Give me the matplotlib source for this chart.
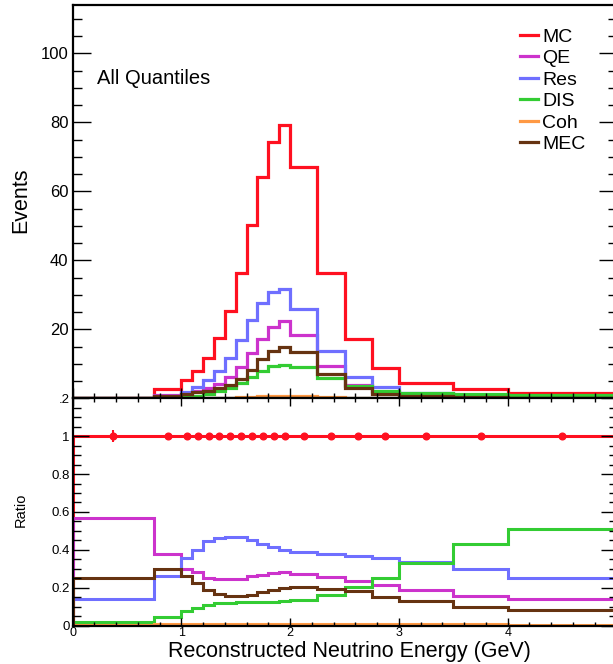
import numpy as np
import matplotlib
matplotlib.use("Agg")
import matplotlib.pyplot as plt
from matplotlib.ticker import MultipleLocator

plt.rcParams['font.family'] = ['Liberation Sans', 'DejaVu Sans']

# bin edges (GeV)
edges = [0, 0.75, 1.0, 1.1, 1.2, 1.3, 1.4, 1.5, 1.6, 1.7, 1.8, 1.9, 2.0,
         2.25, 2.5, 2.75, 3.0, 3.5, 4.0, 5.0]

# top panel: events per bin
mc  = [0.15, 2.6, 5.3, 8.0, 11.6, 17.4, 25.4, 36.2, 50.2, 64.1, 74.4, 79.2,
       67.0, 36.2, 17.1, 8.9, 4.3, 2.6, 1.6]
qe  = [0.09, 0.99, 1.57, 2.26, 2.9, 4.23, 6.22, 8.94, 13.0, 17.2, 20.7, 22.4,
       18.3, 9.3, 4.0, 1.92, 0.8, 0.4, 0.22]
res = [0.02, 0.67, 1.89, 3.19, 5.16, 8.02, 11.8, 17.0, 22.7, 27.6, 30.8, 31.6,
       25.8, 13.6, 6.3, 3.2, 1.44, 0.78, 0.4]
dis = [0.003, 0.12, 0.4, 0.74, 1.26, 2.09, 3.05, 4.42, 6.12, 7.95, 9.3, 9.7,
       9.05, 5.86, 3.45, 2.24, 1.42, 1.11, 0.82]
coh = [0.001, 0.02, 0.04, 0.06, 0.09, 0.16, 0.23, 0.36, 0.5, 0.64, 0.74, 0.79,
       0.6, 0.29, 0.12, 0.06, 0.03, 0.02, 0.01]
mec = [0.04, 0.77, 1.37, 1.78, 2.18, 2.91, 3.94, 5.61, 8.18, 11.3, 13.6, 15.0,
       13.5, 7.1, 3.08, 1.36, 0.57, 0.25, 0.13]

# bottom panel: fraction of MC per bin
r_mc  = [1.0] * 19
r_err = [0.03, 0.006, 0.005, 0.004, 0.004, 0.003, 0.003, 0.003, 0.003, 0.003,
         0.003, 0.003, 0.003, 0.003, 0.004, 0.005, 0.006, 0.008, 0.01]
r_qe  = [0.569, 0.379, 0.296, 0.282, 0.250, 0.243, 0.245, 0.247, 0.259, 0.269,
         0.276, 0.282, 0.273, 0.255, 0.234, 0.216, 0.185, 0.155, 0.139]
r_res = [0.139, 0.259, 0.357, 0.399, 0.445, 0.461, 0.466, 0.470, 0.452, 0.431,
         0.414, 0.399, 0.386, 0.378, 0.366, 0.357, 0.335, 0.300, 0.252]
r_dis = [0.019, 0.047, 0.076, 0.093, 0.109, 0.120, 0.120, 0.122, 0.122, 0.124,
         0.125, 0.128, 0.135, 0.162, 0.202, 0.252, 0.331, 0.428, 0.510]
r_coh = [0.005, 0.006, 0.007, 0.008, 0.008, 0.009, 0.009, 0.010, 0.010, 0.010,
         0.010, 0.010, 0.009, 0.008, 0.007, 0.007, 0.006, 0.006, 0.005]
r_mec = [0.252, 0.296, 0.259, 0.223, 0.188, 0.167, 0.155, 0.155, 0.163, 0.176,
         0.188, 0.199, 0.202, 0.194, 0.180, 0.153, 0.132, 0.097, 0.080]

labels = ["MC", "QE", "Res", "DIS", "Coh", "MEC"]
colors = ["#ff1020", "#cc33cc", "#6f6fff", "#33cc33", "#ff9944", "#663311"]

W, H = 613, 664
fig = plt.figure(figsize=(W / 100, H / 100), dpi=100)

left = 72.5 / W
width = (616.5 - 72.5) / W
ax1 = fig.add_axes([left, 1 - 398.3 / H, width, (398.3 - 5) / H])
ax2 = fig.add_axes([left, 1 - 625.5 / H, width, (625.5 - 398.3) / H])

# top panel
for vals, lab, col in zip([mc, qe, res, dis, coh, mec], labels, colors):
    ax1.stairs(vals, edges, baseline=0, color=col, lw=2.3, label=lab)

ax1.set_xlim(0, 5)
ax1.set_ylim(0, 114)
ax1.set_yticks([20, 40, 60, 80, 100])
ax1.yaxis.set_minor_locator(MultipleLocator(5))
ax1.xaxis.set_major_locator(MultipleLocator(1))
ax1.xaxis.set_minor_locator(MultipleLocator(0.2))
ax1.tick_params(axis='y', which='major', direction='in', length=13, width=1,
                left=True, right=True, labelsize=12, pad=3)
ax1.tick_params(axis='y', which='minor', direction='in', length=6.5, width=1,
                left=True, right=True)
ax1.tick_params(axis='x', which='major', direction='in', length=7, width=1,
                labelbottom=False)
ax1.tick_params(axis='x', which='minor', direction='in', length=3.5, width=1)
for s in ax1.spines.values():
    s.set_linewidth(1.6)

ax1.legend(loc='upper left', bbox_to_anchor=(520 / W, 1 - 28 / H),
           bbox_transform=fig.transFigure, frameon=False, fontsize=14,
           handlelength=0.9, handletextpad=0.25, labelspacing=0.2,
           borderpad=0, borderaxespad=0)

fig.text(97 / W, 1 - 78 / H, "All Quantiles", fontsize=14.5, va='center', ha='left')
fig.text(21 / W, 1 - 200 / H, "Events", fontsize=15.5, rotation=90,
         va='center', ha='center')

# bottom panel
centers = 0.5 * (np.array(edges[:-1]) + np.array(edges[1:]))
ax2.stairs(r_mc, edges, baseline=0, color=colors[0], lw=2.2)
for vals, col in zip([r_qe, r_res, r_dis, r_coh, r_mec], colors[1:]):
    ax2.stairs(vals, edges, baseline=0, color=col, lw=2.2)
ax2.errorbar(centers, r_mc, yerr=r_err, fmt='o', color=colors[0], ms=4.8,
             elinewidth=1.5, capsize=0, zorder=5)

ax2.set_xlim(0, 5)
ax2.set_ylim(0, 1.2)
ax2.set_yticks([0, 0.2, 0.4, 0.6, 0.8, 1.0, 1.2])
ax2.set_yticklabels(["0", "0.2", "0.4", "0.6", "0.8", "1", ".2"])
ax2.yaxis.set_minor_locator(MultipleLocator(0.05))
ax2.set_xticks([0, 1, 2, 3, 4])
ax2.set_xticklabels(["0", "1", "2", "3", "4"])
ax2.xaxis.set_minor_locator(MultipleLocator(0.2))
ax2.tick_params(axis='y', which='major', direction='in', length=11.5, width=1,
                left=True, right=True, labelsize=9.5, pad=2)
ax2.tick_params(axis='y', which='minor', direction='in', length=5.8, width=1,
                left=True, right=True)
ax2.tick_params(axis='x', which='major', direction='in', length=6, width=1,
                top=True, bottom=True, labelsize=9, pad=1)
ax2.tick_params(axis='x', which='minor', direction='in', length=3, width=1,
                top=True, bottom=True)
for s in ax2.spines.values():
    s.set_linewidth(1.6)

fig.text(21 / W, 1 - 510 / H, "Ratio", fontsize=10.5, rotation=90,
         va='center', ha='center')
fig.text(349 / W, 1 - 651 / H, "Reconstructed Neutrino Energy (GeV)",
         fontsize=15.5, va='center', ha='center')

fig.savefig("out.png", dpi=100)
